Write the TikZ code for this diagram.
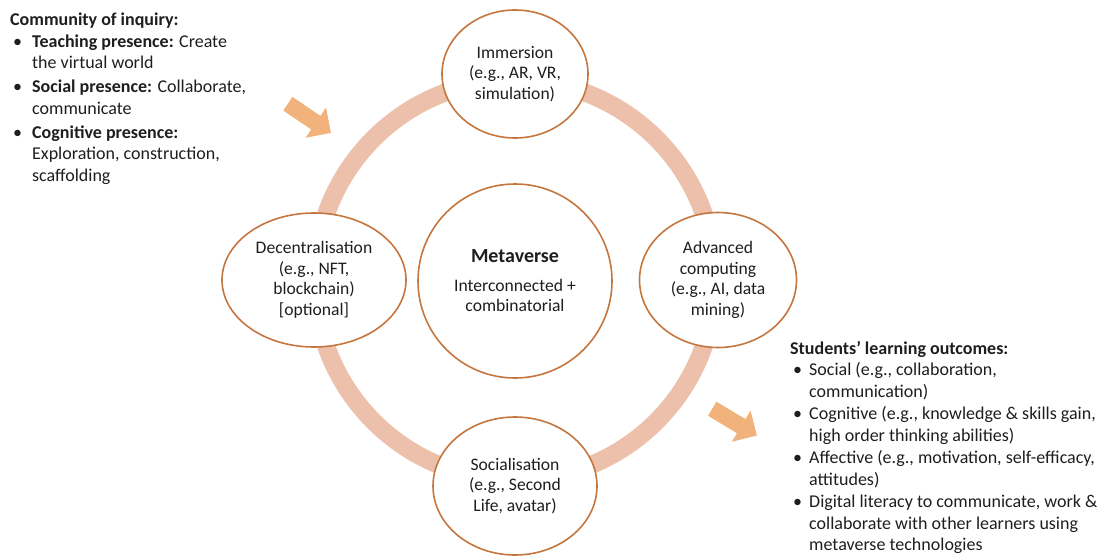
\documentclass[tikz,border=0pt]{standalone}
\usepackage{fontspec}
\setmainfont{Carlito}
\usepackage{tikz}
\usetikzlibrary{shapes.geometric,shapes.arrows}

\definecolor{ringpink}{RGB}{236,192,170}
\definecolor{rimbrown}{RGB}{196,118,62}
\definecolor{arroworange}{RGB}{241,178,124}
\definecolor{inktext}{RGB}{30,30,30}

\tikzset{
    bubble/.style={ellipse, draw=rimbrown, line width=1.6pt, fill=white, inner sep=0pt,
        align=center, text=inktext, font=\fontsize{17.6}{20.5}\selectfont},
    ring/.style={draw=ringpink, line width=18pt},
    fatarrow/.style={single arrow, fill=arroworange, draw=none, minimum width=36pt,
        minimum height=52pt, single arrow head extend=10pt, inner sep=8pt},
    listtext/.style={anchor=base west, inner sep=0pt, text=inktext,
        font=\fontsize{18}{21.5}\selectfont}
}

\begin{document}
\begin{tikzpicture}[x=1pt, y=1pt]
        \useasboundingbox (0, 0) rectangle (1102, -556);

        \coordinate (hub) at (515, -280);
        \draw[ring] (hub) circle[radius=200];

        \node[bubble, minimum width=194pt, minimum height=194pt] (meta) at (515, -281)
            {{\fontsize{20}{22}\selectfont\bfseries Metaverse}\\[8pt]Interconnected +\\combinatorial};
        \node[bubble, minimum width=146pt, minimum height=128pt] (immersion) at (515, -74)
            {Immersion\\(e.g., AR, VR,\\simulation)};
        \node[bubble, minimum width=184pt, minimum height=134pt] (decentral) at (314, -280)
            {Decentralisation\\(e.g., NFT,\\blockchain)\\{[optional]}};
        \node[bubble, minimum width=157pt, minimum height=135pt] (computing) at (718, -280)
            {Advanced\\computing\\(e.g., AI, data\\mining)};
        \node[bubble, minimum width=164pt, minimum height=138pt] (social) at (515, -486)
            {Socialisation\\(e.g., Second\\Life, avatar)};

        \node[fatarrow, rotate=-34] (inarrow) at (306, -116) {};
        \node[fatarrow, rotate=-31] (outarrow) at (731, -420) {};

        \node[listtext] (inquiry) at (10, -26) {\begin{tabular}[t]{@{}p{22pt}@{}l@{}}
            \multicolumn{2}{@{}l@{}}{\textbf{Community of inquiry:}}\\
            \hspace{3pt}\textbullet & \textbf{Teaching presence:} Create\\
            & the virtual world\\[2.5pt]
            \hspace{3pt}\textbullet & \textbf{Social presence:} Collaborate,\\
            & communicate\\[2.5pt]
            \hspace{3pt}\textbullet & \textbf{Cognitive presence:}\\
            & Exploration, construction,\\
            & scaffolding
        \end{tabular}};

        \node[listtext] (outcomes) at (790, -354) {\begin{tabular}[t]{@{}p{19pt}@{}l@{}}
            \multicolumn{2}{@{}l@{}}{\textbf{Students’ learning outcomes:}}\\
            \hspace{3pt}\textbullet & Social (e.g., collaboration,\\
            & communication)\\[1pt]
            \hspace{3pt}\textbullet & Cognitive (e.g., knowledge \& skills gain,\\
            & high order thinking abilities)\\[1pt]
            \hspace{3pt}\textbullet & Affective (e.g., motivation, self-efficacy,\\
            & attitudes)\\[1pt]
            \hspace{3pt}\textbullet & Digital literacy to communicate, work \&\\
            & collaborate with other learners using\\
            & metaverse technologies
        \end{tabular}};
    \end{tikzpicture}
\end{document}
